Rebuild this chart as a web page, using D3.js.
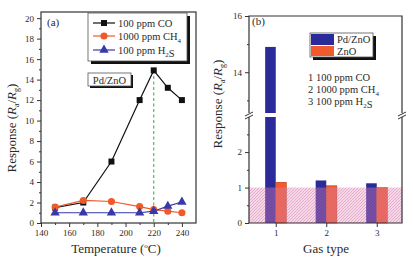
<!doctype html>
<html lang="en">
<head>
  <style>
    body { margin: 0; background: #fff; }
    text { font-family: "Liberation Serif", "Times New Roman", serif; fill: #2a2a2a; }
    .tick text { font-size: 9px; font-family: "Liberation Serif", serif; }
    .axis-title { font-size: 13px; }
    .lg { font-size: 10.5px; }
  </style>
  <script src="https://d3js.org/d3.v7.min.js"></script>
</head>
<body>
  <script>
    // panel (a): response vs temperature
    const temps = [150, 170, 190, 210, 220, 230, 240];
    const coResp = [1.5, 2.0, 6.0, 12.0, 14.9, 13.2, 12.0];
    const ch4Resp = [1.55, 2.2, 2.1, 1.6, 1.3, 1.15, 1.0];
    const h2sResp = [1.0, 1.0, 1.0, 1.0, 1.15, 1.65, 2.05];
    const xTicksA = [140, 160, 180, 200, 220, 240];
    const yTicksA = [0, 2, 4, 6, 8, 10, 12, 14, 16, 18, 20];

    // panel (b): response by gas type
    const gasTypes = [1, 2, 3];
    const pdZnO = [14.9, 1.2, 1.12];
    const znO = [1.15, 1.05, 1.0];
    const yTicksLow = [0, 1, 2];
    const yTicksHigh = [14, 16];

    const W = 413, H = 259;
    const fmt = d3.format("d");
    const svg = d3.select("body").append("svg")
        .attr("width", W).attr("height", H);

    const defs = svg.append("defs");
    const pat = defs.append("pattern")
        .attr("id", "hatch")
        .attr("patternUnits", "userSpaceOnUse")
        .attr("width", 3).attr("height", 3);
    pat.append("rect").attr("width", 3).attr("height", 3).attr("fill", "rgba(225,140,185,0.35)");
    pat.append("path").attr("d", "M-1,1 l2,-2 M0,3 l3,-3 M2,4 l2,-2")
        .attr("stroke", "rgba(190,80,140,0.45)").attr("stroke-width", 0.7);

    function yLabel(g, x, y) {
      const t = g.append("text").attr("class", "axis-title")
          .attr("transform", `translate(${x},${y}) rotate(-90)`)
          .attr("text-anchor", "middle");
      t.append("tspan").text("Response (");
      t.append("tspan").attr("font-style", "italic").text("R");
      t.append("tspan").attr("font-size", "8px").attr("dy", 3).text("a");
      t.append("tspan").attr("dy", -3).text("/");
      t.append("tspan").attr("font-style", "italic").text("R");
      t.append("tspan").attr("font-size", "8px").attr("dy", 3).text("g");
      t.append("tspan").attr("dy", -3).text(")");
    }

    // parts: plain strings, or {sub: "x"} for a subscript
    function subText(g, x, y, parts, cls) {
      const t = g.append("text").attr("class", cls).attr("x", x).attr("y", y);
      parts.forEach(p => {
        if (typeof p === "object") {
          t.append("tspan").attr("font-size", "7px").attr("dy", 3).text(p.sub);
          t.append("tspan").attr("dy", -3).text("");
        } else t.append("tspan").text(p);
      });
      return t;
    }

    // ---------- panel (a)
    const x = d3.scaleLinear().domain([140, 250]).range([41, 196]);
    const y = d3.scaleLinear().domain([0, 20.6]).range([223, 12]);
    const ga = svg.append("g");

    ga.append("rect").attr("x", 41).attr("y", 12).attr("width", 155).attr("height", 211)
        .attr("fill", "none").attr("stroke", "#333").attr("stroke-width", 1.2);

    ga.append("g").attr("transform", "translate(0,223)")
        .call(d3.axisBottom(x).tickValues(xTicksA).tickSize(4).tickFormat(fmt))
        .call(g => g.select(".domain").remove());
    ga.append("g").attr("transform", "translate(0,223)")
        .call(d3.axisBottom(x).tickValues(d3.range(150, 250, 20)).tickSize(2).tickFormat(""))
        .call(g => g.select(".domain").remove());
    ga.append("g").attr("transform", "translate(41,0)")
        .call(d3.axisLeft(y).tickValues(yTicksA).tickSize(4).tickFormat(fmt))
        .call(g => g.select(".domain").remove());
    ga.append("g").attr("transform", "translate(41,0)")
        .call(d3.axisLeft(y).tickValues(d3.range(1, 21, 2)).tickSize(2).tickFormat(""))
        .call(g => g.select(".domain").remove());
    ga.selectAll(".tick line").attr("stroke", "#333");

    // dashed marker at peak
    ga.append("line")
        .attr("x1", x(220)).attr("x2", x(220))
        .attr("y1", y(coResp[4])).attr("y2", y(0))
        .attr("stroke", "#4fbf4f").attr("stroke-width", 1.2).attr("stroke-dasharray", "3,2.5");

    const line = d3.line().x((d, i) => x(temps[i])).y(d => y(d));
    const series = [
      { vals: coResp, color: "#111", shape: d3.symbolSquare, size: 36 },
      { vals: ch4Resp, color: "#f05a28", shape: d3.symbolCircle, size: 40 },
      { vals: h2sResp, color: "#3838a8", shape: d3.symbolTriangle, size: 38 }
    ];
    series.forEach(s => {
      ga.append("path").datum(s.vals).attr("d", line)
          .attr("fill", "none").attr("stroke", s.color).attr("stroke-width", 1.2);
      ga.selectAll(null).data(s.vals).enter().append("path")
          .attr("transform", (d, i) => `translate(${x(temps[i])},${y(d)})`)
          .attr("d", d3.symbol().type(s.shape).size(s.size))
          .attr("fill", s.color);
    });

    ga.append("text").attr("x", 47).attr("y", 26).attr("font-size", "11px").text("(a)");

    // legend (a)
    ga.append("rect").attr("x", 91).attr("y", 16).attr("width", 99).attr("height", 48).attr("fill", "#111");
    ga.append("rect").attr("x", 88).attr("y", 13).attr("width", 99).attr("height", 48)
        .attr("fill", "#fff").attr("stroke", "#555").attr("stroke-width", 0.8);
    const lgRows = [
      { s: series[0], y: 23, parts: ["100 ppm CO"] },
      { s: series[1], y: 36, parts: ["1000 ppm CH", { sub: "4" }] },
      { s: series[2], y: 50, parts: ["100 ppm H", { sub: "2" }, "S"] }
    ];
    lgRows.forEach(r => {
      ga.append("line").attr("x1", 93).attr("x2", 115).attr("y1", r.y).attr("y2", r.y)
          .attr("stroke", r.s.color).attr("stroke-width", 1.2);
      ga.append("path").attr("transform", `translate(104,${r.y})`)
          .attr("d", d3.symbol().type(r.s.shape).size(r.s.size)).attr("fill", r.s.color);
      subText(ga, 118, r.y + 3.5, r.parts, "lg");
    });

    // Pd/ZnO tag
    ga.append("rect").attr("x", 90).attr("y", 75).attr("width", 43).attr("height", 13).attr("fill", "#111");
    ga.append("rect").attr("x", 88).attr("y", 73).attr("width", 43).attr("height", 13)
        .attr("fill", "#fff").attr("stroke", "#555").attr("stroke-width", 0.8);
    ga.append("text").attr("class", "lg").attr("x", 109.5).attr("y", 83.5)
        .attr("text-anchor", "middle").text("Pd/ZnO");

    yLabel(ga, 16, 128);
    const xt = ga.append("text").attr("class", "axis-title")
        .attr("x", 116).attr("y", 253).attr("text-anchor", "middle");
    xt.append("tspan").text("Temperature (");
    xt.append("tspan").attr("font-size", "7px").attr("dy", -5).text("o");
    xt.append("tspan").attr("dy", 5).text("C)");

    // ---------- panel (b)
    const xb = d3.scaleLinear().domain([0.47, 3.5]).range([249, 402]);
    const yLow = d3.scaleLinear().domain([0, 2.99]).range([223, 117]);
    const yHigh = d3.scaleLinear().domain([12.55, 16]).range([113, 16]);
    const bw = xb(1.21) - xb(1);
    const gb = svg.append("g");

    // bars, lower segment
    gb.selectAll(".pd-lo").data(pdZnO).enter().append("rect")
        .attr("x", (d, i) => xb(gasTypes[i]) - bw)
        .attr("y", d => yLow(Math.min(d, 2.99)))
        .attr("width", bw)
        .attr("height", d => yLow(0) - yLow(Math.min(d, 2.99)))
        .attr("fill", "#2a2a9a");
    gb.selectAll(".pd-hi").data(pdZnO.filter(d => d > 12.55)).enter().append("rect")
        .attr("x", (d, i) => xb(gasTypes[i]) - bw)
        .attr("y", d => yHigh(d))
        .attr("width", bw)
        .attr("height", d => yHigh(12.55) - yHigh(d))
        .attr("fill", "#2a2a9a");
    gb.selectAll(".zn").data(znO).enter().append("rect")
        .attr("x", (d, i) => xb(gasTypes[i]))
        .attr("y", d => yLow(d))
        .attr("width", bw)
        .attr("height", d => yLow(0) - yLow(d))
        .attr("fill", "#f05a2c")
        .attr("stroke", "#b03010").attr("stroke-width", 0.5);

    // hatched baseline band
    gb.append("rect").attr("x", 249).attr("y", yLow(1)).attr("width", 153)
        .attr("height", yLow(0) - yLow(1)).attr("fill", "url(#hatch)");

    // frame with axis break
    const fr = "#333";
    gb.append("path").attr("d", `M249,223 V117 M249,113 V16 H402 V113 M402,117 V223 H249`)
        .attr("fill", "none").attr("stroke", fr).attr("stroke-width", 1.2);
    [249, 402].forEach(bx => {
      gb.append("path").attr("d", `M${bx - 4},116 l8,-4 M${bx - 4},119 l8,-4`)
          .attr("stroke", fr).attr("stroke-width", 1);
    });

    gb.append("g").attr("transform", "translate(0,223)")
        .call(d3.axisBottom(xb).tickValues(gasTypes).tickSize(4).tickFormat(fmt))
        .call(g => g.select(".domain").remove());
    gb.append("g").attr("transform", "translate(249,0)")
        .call(d3.axisLeft(yLow).tickValues(yTicksLow).tickSize(4).tickFormat(fmt))
        .call(g => g.select(".domain").remove());
    gb.append("g").attr("transform", "translate(249,0)")
        .call(d3.axisLeft(yLow).tickValues([0.5, 1.5, 2.5]).tickSize(2).tickFormat(""))
        .call(g => g.select(".domain").remove());
    gb.append("g").attr("transform", "translate(249,0)")
        .call(d3.axisLeft(yHigh).tickValues(yTicksHigh).tickSize(4).tickFormat(fmt))
        .call(g => g.select(".domain").remove());
    gb.append("g").attr("transform", "translate(249,0)")
        .call(d3.axisLeft(yHigh).tickValues([13, 15]).tickSize(2).tickFormat(""))
        .call(g => g.select(".domain").remove());
    gb.selectAll(".tick line").attr("stroke", "#333");

    gb.append("text").attr("x", 252).attr("y", 25).attr("font-size", "11px").text("(b)");

    // legend (b)
    gb.append("rect").attr("x", 313).attr("y", 36).attr("width", 63).attr("height", 24).attr("fill", "#111");
    gb.append("rect").attr("x", 310).attr("y", 33).attr("width", 63).attr("height", 24)
        .attr("fill", "#fff").attr("stroke", "#555").attr("stroke-width", 0.8);
    gb.append("rect").attr("x", 311).attr("y", 34).attr("width", 23).attr("height", 11).attr("fill", "#2a2a9a");
    gb.append("rect").attr("x", 311).attr("y", 46).attr("width", 23).attr("height", 10).attr("fill", "#f05a2c");
    gb.append("text").attr("class", "lg").attr("x", 337).attr("y", 43).text("Pd/ZnO");
    gb.append("text").attr("class", "lg").attr("x", 337).attr("y", 55).text("ZnO");

    subText(gb, 308, 81, ["1 100 ppm CO"], "lg");
    subText(gb, 308, 93, ["2 1000 ppm CH", { sub: "4" }], "lg");
    subText(gb, 308, 105, ["3 100 ppm H", { sub: "2" }, "S"], "lg");

    yLabel(gb, 222, 104);
    gb.append("text").attr("class", "axis-title")
        .attr("x", 326).attr("y", 253).attr("text-anchor", "middle").text("Gas type");
  </script>
</body>
</html>
